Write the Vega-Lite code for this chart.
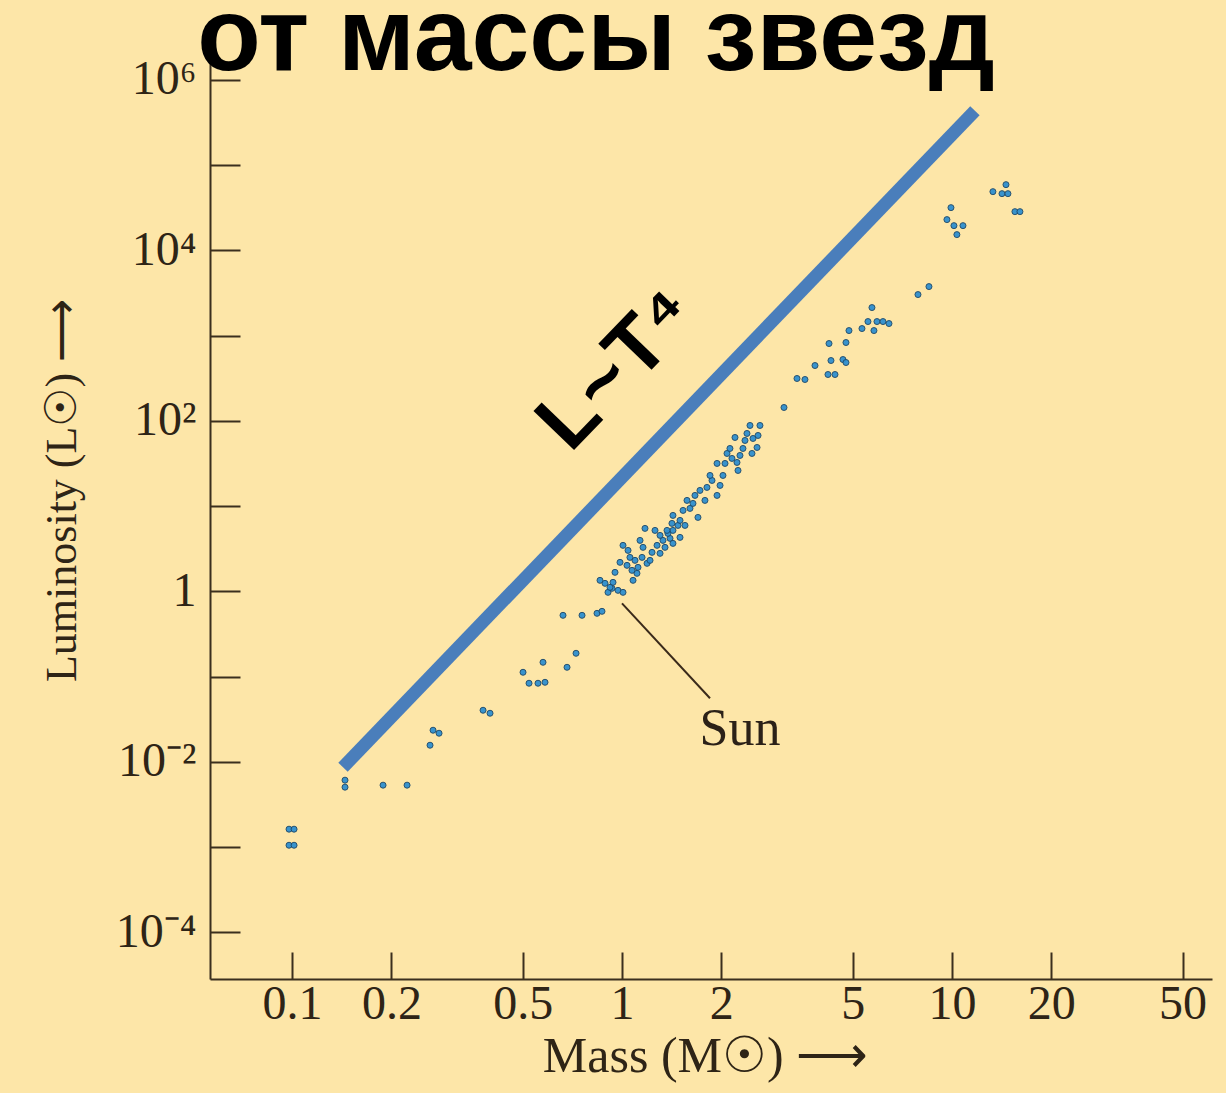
{
  "$schema": "https://vega.github.io/schema/vega-lite/v6.json",
  "width": 1002,
  "height": 931,
  "autosize": {"type": "none"},
  "padding": {"left": 210, "top": 48, "right": 14, "bottom": 114},
  "background": "#fde6a8",
  "config": {"view": {"stroke": null}},
  "title": {
    "text": "от массы звезд",
    "font": "Liberation Sans",
    "fontSize": 104,
    "fontWeight": "bold",
    "color": "#000000",
    "anchor": "middle",
    "frame": "group",
    "baseline": "alphabetic",
    "offset": 0,
    "dx": -115,
    "dy": 126
  },
  "datasets": {
    "stars": [
      {"mass": 0.0979, "lum": 0.00162}, {"mass": 0.1014, "lum": 0.00162},
      {"mass": 0.0979, "lum": 0.00105}, {"mass": 0.1014, "lum": 0.00105},
      {"mass": 0.1447, "lum": 0.00609}, {"mass": 0.1447, "lum": 0.00504},
      {"mass": 0.1887, "lum": 0.00532}, {"mass": 0.2231, "lum": 0.00532},
      {"mass": 0.2619, "lum": 0.01565}, {"mass": 0.2675, "lum": 0.02347},
      {"mass": 0.2789, "lum": 0.02164}, {"mass": 0.3792, "lum": 0.04025},
      {"mass": 0.3981, "lum": 0.03713}, {"mass": 0.5012, "lum": 0.1123},
      {"mass": 0.5226, "lum": 0.0835}, {"mass": 0.5564, "lum": 0.0835},
      {"mass": 0.5843, "lum": 0.0857}, {"mass": 0.5762, "lum": 0.1471},
      {"mass": 0.6813, "lum": 0.1285}, {"mass": 0.7256, "lum": 0.1876},
      {"mass": 0.6625, "lum": 0.5232}, {"mass": 0.7565, "lum": 0.5232},
      {"mass": 0.8399, "lum": 0.5523}, {"mass": 0.8696, "lum": 0.5829},
      {"mass": 0.8577, "lum": 1.346}, {"mass": 0.8882, "lum": 1.241},
      {"mass": 0.9326, "lum": 1.084}, {"mass": 0.9391, "lum": 1.275},
      {"mass": 0.9725, "lum": 1.027}, {"mass": 1.007, "lum": 0.973},
      {"mass": 0.9069, "lum": 0.973}, {"mass": 1.08, "lum": 1.346},
      {"mass": 0.9197, "lum": 1.114}, {"mass": 1.007, "lum": 3.462},
      {"mass": 1.057, "lum": 2.503}, {"mass": 1.0355, "lum": 2.018},
      {"mass": 1.095, "lum": 2.309}, {"mass": 1.118, "lum": 1.911},
      {"mass": 1.15, "lum": 2.503}, {"mass": 1.191, "lum": 2.13},
      {"mass": 1.158, "lum": 3.28}, {"mass": 1.233, "lum": 2.866},
      {"mass": 1.277, "lum": 3.462}, {"mass": 1.304, "lum": 2.79},
      {"mass": 1.35, "lum": 3.28}, {"mass": 1.331, "lum": 3.962},
      {"mass": 1.398, "lum": 4.181}, {"mass": 1.378, "lum": 4.786},
      {"mass": 1.427, "lum": 5.189}, {"mass": 1.478, "lum": 5.938},
      {"mass": 1.174, "lum": 5.478}, {"mass": 1.216, "lum": 2.309},
      {"mass": 1.11, "lum": 1.626}, {"mass": 1.072, "lum": 1.763},
      {"mass": 1.304, "lum": 4.534}, {"mass": 1.369, "lum": 5.189},
      {"mass": 1.417, "lum": 6.269}, {"mass": 1.427, "lum": 7.78},
      {"mass": 1.499, "lum": 6.8}, {"mass": 1.531, "lum": 8.905},
      {"mass": 1.607, "lum": 9.398}, {"mass": 1.574, "lum": 11.67},
      {"mass": 1.664, "lum": 13.35}, {"mass": 1.641, "lum": 10.76},
      {"mass": 1.699, "lum": 7.37}, {"mass": 1.723, "lum": 15.28},
      {"mass": 1.809, "lum": 16.57}, {"mass": 1.874, "lum": 20.01},
      {"mass": 1.848, "lum": 22.9}, {"mass": 1.941, "lum": 13.35},
      {"mass": 1.941, "lum": 31.67}, {"mass": 2.023, "lum": 22.9},
      {"mass": 2.052, "lum": 31.67}, {"mass": 2.081, "lum": 41.48},
      {"mass": 2.154, "lum": 36.25}, {"mass": 2.124, "lum": 47.47},
      {"mass": 2.2, "lum": 63.89}, {"mass": 2.231, "lum": 32.53},
      {"mass": 2.278, "lum": 39.3}, {"mass": 2.326, "lum": 47.47},
      {"mass": 2.392, "lum": 71.17}, {"mass": 2.443, "lum": 88.35},
      {"mass": 2.495, "lum": 62.19}, {"mass": 2.584, "lum": 67.42},
      {"mass": 2.566, "lum": 48.77}, {"mass": 2.477, "lum": 41.48},
      {"mass": 2.619, "lum": 88.35}, {"mass": 1.499, "lum": 4.296},
      {"mass": 1.427, "lum": 3.653}, {"mass": 3.097, "lum": 143.6},
      {"mass": 3.391, "lum": 314.2}, {"mass": 3.585, "lum": 305.8},
      {"mass": 3.845, "lum": 446.1}, {"mass": 4.21, "lum": 349.9},
      {"mass": 4.421, "lum": 349.9}, {"mass": 4.299, "lum": 510.6},
      {"mass": 4.674, "lum": 524.6}, {"mass": 4.773, "lum": 483.8},
      {"mass": 4.24, "lum": 808.1}, {"mass": 4.773, "lum": 830.2},
      {"mass": 4.874, "lum": 1147}, {"mass": 5.337, "lum": 1211},
      {"mass": 5.802, "lum": 1147}, {"mass": 5.565, "lum": 1463},
      {"mass": 5.926, "lum": 1463}, {"mass": 6.18, "lum": 1463},
      {"mass": 6.444, "lum": 1387}, {"mass": 5.722, "lum": 2135},
      {"mass": 7.889, "lum": 3033}, {"mass": 8.518, "lum": 3763},
      {"mass": 9.931, "lum": 31760}, {"mass": 9.656, "lum": 22970},
      {"mass": 10.14, "lum": 19530}, {"mass": 10.8, "lum": 19530},
      {"mass": 10.35, "lum": 15320}, {"mass": 13.31, "lum": 48910},
      {"mass": 14.58, "lum": 59080}, {"mass": 14.18, "lum": 46340},
      {"mass": 14.78, "lum": 46340}, {"mass": 15.52, "lum": 28500},
      {"mass": 16.07, "lum": 28500}, {"mass": 0.9523, "lum": 1.67},
      {"mass": 0.9861, "lum": 2.188}, {"mass": 1.043, "lum": 3.024},
      {"mass": 1.134, "lum": 3.962}, {"mass": 1.259, "lum": 5.189},
      {"mass": 1.552, "lum": 5.938}, {"mass": 1.784, "lum": 11.67},
      {"mass": 1.982, "lum": 17.49}, {"mass": 2.359, "lum": 58.92},
      {"mass": 2.247, "lum": 26.21}
    ],
    "trend": [{"m1": 0.1427, "l1": 0.00864, "m2": 11.74, "l2": 435500}],
    "pointer": [{"m1": 1.0, "l1": 0.723, "m2": 1.848, "l2": 0.0557}],
    "labels": [{"mass": 2.278, "lum": 0.01566, "text": "Sun"}],
    "law": [{"mass": 1.1, "lum": 255, "text": "L~T⁴"}]
  },
  "layer": [
    {
      "data": {"name": "stars"},
      "mark": {"type": "circle", "size": 36, "color": "#2e8fd0", "opacity": 0.95, "stroke": "#1d4a6b", "strokeWidth": 1},
      "encoding": {
        "x": {
          "field": "mass", "type": "quantitative",
          "scale": {"type": "log", "domain": [0.0564, 61.4], "nice": false},
          "axis": {
            "values": [0.1, 0.2, 0.5, 1, 2, 5, 10, 20, 50],
            "format": "~g",
            "grid": false,
            "labelFont": "Liberation Serif", "labelFontSize": 48, "labelColor": "#2e2416",
            "labelPadding": 28,
            "domainColor": "#3b2f1e", "domainWidth": 2,
            "tickColor": "#3b2f1e", "tickWidth": 2, "tickSize": -27,
            "title": "Mass (M☉) ⟶",
            "titleFont": "Liberation Serif", "titleFontSize": 50, "titleFontWeight": "normal", "titleColor": "#2e2416",
            "titleX": 495, "titleY": 92, "titleBaseline": "alphabetic", "titleAlign": "center"
          }
        },
        "y": {
          "field": "lum", "type": "quantitative",
          "scale": {"type": "log", "domain": [0.0000283, 2370000], "nice": false},
          "axis": {
            "values": [0.0001, 0.001, 0.01, 0.1, 1, 10, 100, 1000, 10000, 100000, 1000000],
            "labelExpr": "round(log(datum.value)/LN10) == 6 ? '10⁶' : round(log(datum.value)/LN10) == 4 ? '10⁴' : round(log(datum.value)/LN10) == 2 ? '10²' : round(log(datum.value)/LN10) == 0 ? '1' : round(log(datum.value)/LN10) == -2 ? '10⁻²' : round(log(datum.value)/LN10) == -4 ? '10⁻⁴' : ''",
            "grid": false,
            "labelFont": "Liberation Serif", "labelFontSize": 48, "labelColor": "#2e2416",
            "labelPadding": 44,
            "domainColor": "#3b2f1e", "domainWidth": 2,
            "tickColor": "#3b2f1e", "tickWidth": 2, "tickSize": -30,
            "title": "Luminosity (L☉) ⟶",
            "titleFont": "Liberation Serif", "titleFontSize": 44, "titleFontWeight": "normal", "titleColor": "#2e2416",
            "titleX": -148, "titleY": 442, "titleBaseline": "middle", "titleAlign": "center", "titleAngle": -90
          }
        }
      }
    },
    {
      "data": {"name": "trend"},
      "mark": {"type": "rule", "color": "#4a7ebb", "strokeWidth": 13, "strokeCap": "butt"},
      "encoding": {
        "x": {"field": "m1", "type": "quantitative"},
        "y": {"field": "l1", "type": "quantitative"},
        "x2": {"field": "m2"},
        "y2": {"field": "l2"}
      }
    },
    {
      "data": {"name": "pointer"},
      "mark": {"type": "rule", "color": "#3a2a1a", "strokeWidth": 2},
      "encoding": {
        "x": {"field": "m1", "type": "quantitative"},
        "y": {"field": "l1", "type": "quantitative"},
        "x2": {"field": "m2"},
        "y2": {"field": "l2"}
      }
    },
    {
      "data": {"name": "labels"},
      "mark": {"type": "text", "font": "Liberation Serif", "fontSize": 52, "color": "#2b2118", "align": "center", "baseline": "alphabetic"},
      "encoding": {
        "x": {"field": "mass", "type": "quantitative"},
        "y": {"field": "lum", "type": "quantitative"},
        "text": {"field": "text"}
      }
    },
    {
      "data": {"name": "law"},
      "mark": {"type": "text", "font": "Liberation Sans", "fontSize": 82, "fontWeight": "bold", "color": "#000000", "align": "center", "baseline": "alphabetic", "angle": -46},
      "encoding": {
        "x": {"field": "mass", "type": "quantitative"},
        "y": {"field": "lum", "type": "quantitative"},
        "text": {"field": "text"}
      }
    }
  ]
}
